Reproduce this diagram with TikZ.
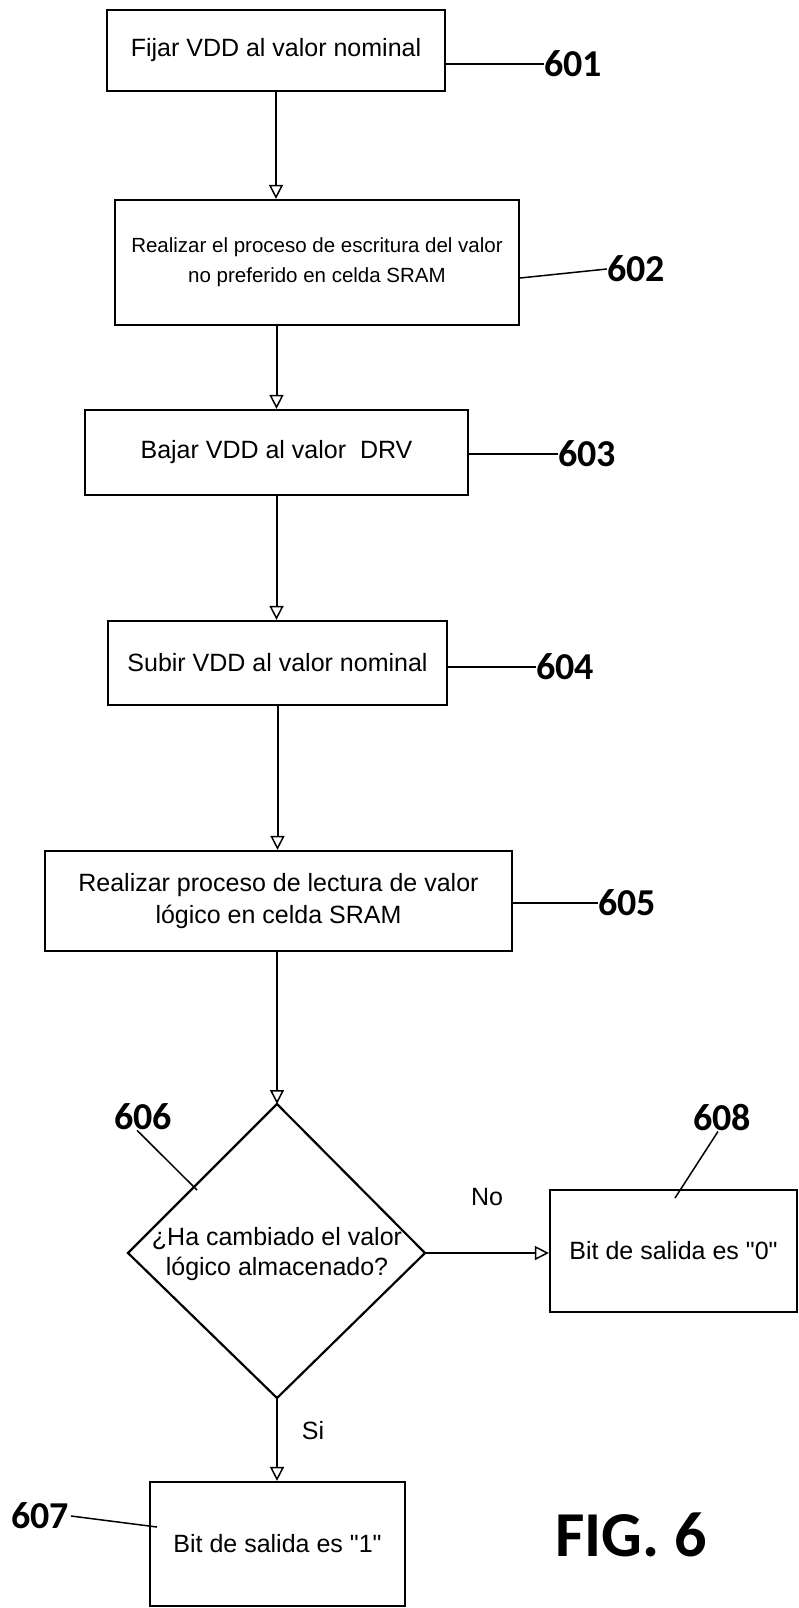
\documentclass[tikz,border=0pt]{standalone}
\usepackage{fontspec}
\setmainfont{Liberation Sans}[Ligatures=TeXOff]
\newfontfamily\reffont{Carlito}
\usetikzlibrary{arrows.meta}

\begin{document}
\begin{tikzpicture}[x=1pt,y=-1pt,
  stepbox/.style={draw, line width=2.2pt, inner sep=0pt, align=center,
    font=\fontsize{25}{32}\selectfont},
  flow/.style={line width=2pt,
    -{Triangle[open,length=14pt,width=14pt,line width=1.5pt]}},
  leader/.style={line width=1.5pt},
  reflabel/.style={inner sep=0pt, font=\reffont\bfseries\fontsize{38}{38}\selectfont},
  tag/.style={inner sep=0pt, align=center, font=\fontsize{25}{30}\selectfont}
]
\path[use as bounding box] (0,0) rectangle (799,1608);

% process steps
\node[stepbox, minimum width=338pt, minimum height=81pt] (b601) at (276,50.5)
  {Fijar VDD al valor nominal};
\node[stepbox, minimum width=404pt, minimum height=125pt,
      font=\fontsize{20.5}{30}\selectfont] (b602) at (317,262.5)
  {Realizar el proceso de escritura del valor\\no preferido en celda SRAM};
\node[stepbox, minimum width=383pt, minimum height=85pt] (b603) at (276.5,452.5)
  {Bajar VDD al valor\ \ DRV};
\node[stepbox, minimum width=339pt, minimum height=84pt] (b604) at (277.5,663)
  {Subir VDD al valor nominal};
\node[stepbox, minimum width=467pt, minimum height=100pt] (b605) at (278.5,901)
  {Realizar proceso de lectura de valor\\lógico en celda SRAM};

% decision
\coordinate (dT) at (277,1104);
\coordinate (dR) at (425,1253);
\coordinate (dB) at (277,1398);
\coordinate (dL) at (128,1253);
\draw[line width=2.2pt] (dT) -- (dR) -- (dB) -- (dL) -- cycle;
\node[tag] (q606) at (277,1254) {¿Ha cambiado el valor\\lógico almacenado?};

% outcomes
\node[stepbox, minimum width=247pt, minimum height=122pt] (b608) at (673.5,1251)
  {Bit de salida es "0"};
\node[stepbox, minimum width=255pt, minimum height=124pt] (b607) at (277.5,1544)
  {Bit de salida es "1"};

% flow arrows
\draw[flow] (b601.south) -- (b601.south |- b602.north);
\draw[flow] (b603.north |- b602.south) -- (b603.north);
\draw[flow] (b603.south) -- (b603.south |- b604.north);
\draw[flow] (b604.south) -- (b604.south |- b605.north);
\draw[flow] (b605.south -| dT) -- (dT);
\draw[flow] (dR) -- (dR -| b608.west);
\draw[flow] (dB) -- (dB |- b607.north);
\node[tag] (tno) at (487,1197) {No};
\node[tag] (tsi) at (313,1431) {Si};

% reference numerals
\node[reflabel] (l601) at (573,64) {601};
\node[reflabel] (l602) at (636,269) {602};
\node[reflabel] (l603) at (587,454) {603};
\node[reflabel] (l604) at (565,667) {604};
\node[reflabel] (l605) at (627,903) {605};
\node[reflabel] (l606) at (143,1117) {606};
\node[reflabel] (l608) at (722,1118) {608};
\node[reflabel] (l607) at (40,1516) {607};

\coordinate (k606) at (197,1190);
\coordinate (k608) at (675,1198);
\coordinate (k607) at (157,1527);

\draw[leader] (b601.east |- l601.west) -- (l601.west);
\draw[leader] (b602.east |- 0,278) -- (l602.west);
\draw[leader] (b603.east |- l603.west) -- (l603.west);
\draw[leader] (b604.east |- l604.west) -- (l604.west);
\draw[leader] (b605.east |- l605.west) -- (l605.west);
\draw[leader] ([xshift=-6pt]l606.south) -- (k606);
\draw[leader] ([xshift=-4pt]l608.south) -- (k608);
\draw[leader] ([xshift=2pt]l607.east) -- (k607);

\node[inner sep=0pt, font=\reffont\bfseries\fontsize{64}{64}\selectfont] (fig) at (631,1535) {FIG. 6};
\end{tikzpicture}
\end{document}
